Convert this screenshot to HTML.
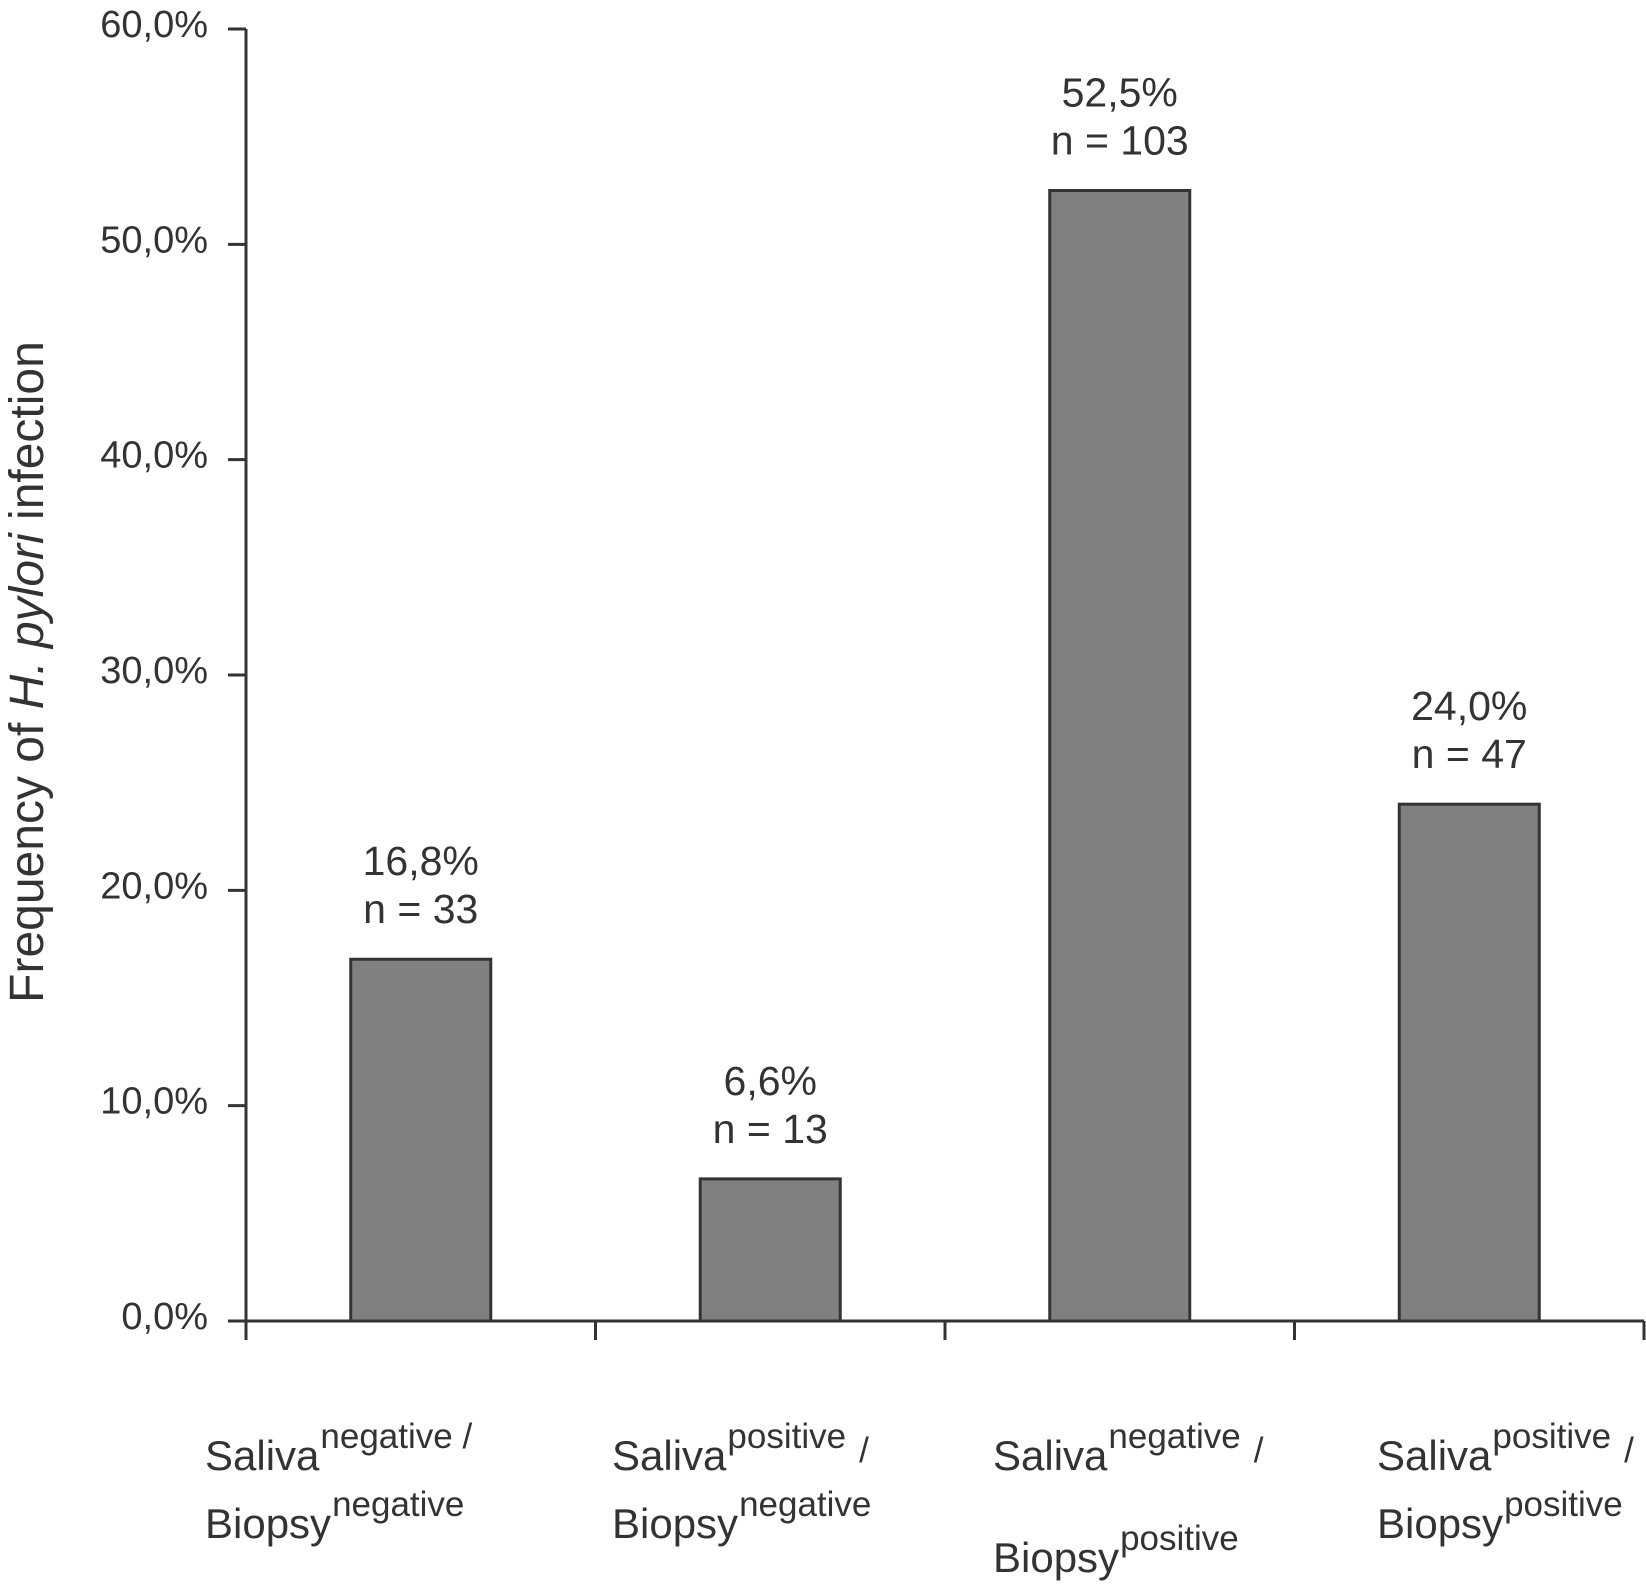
<!DOCTYPE html>
<html><head><meta charset="utf-8"><style>
html,body{margin:0;padding:0;background:#fff;}
svg{display:block;font-family:"Liberation Sans",Arial,sans-serif;}
</style></head><body>
<svg id="chart" width="1646" height="1591" viewBox="0 0 1646 1591">
<g id="axes"></g><g id="bars"></g><g id="labels"></g>
</svg>
<script>
const categories=[["negative","negative"],["positive","negative"],["negative","positive"],["positive","positive"]];
const values=[16.8,6.6,52.5,24.0];
const valueLabels=["16,8%","6,6%","52,5%","24,0%"];
const countLabels=["n = 33","n = 13","n = 103","n = 47"];
const yTicks=[0,10,20,30,40,50,60];
const yTickLabels=["0,0%","10,0%","20,0%","30,0%","40,0%","50,0%","60,0%"];

const NS="http://www.w3.org/2000/svg";
const x0=246,x1=1644,y0=1321,yTop=29,yMax=60;
const band=(x1-x0)/categories.length;
function yScale(v){return y0-(v/yMax)*(y0-yTop);}
function xCenter(i){return x0+band*(i+0.5);}
function mk(tag,attrs,parent){const e=document.createElementNS(NS,tag);for(const k in attrs)e.setAttribute(k,attrs[k]);parent.appendChild(e);return e;}
const axes=document.getElementById('axes'),bars=document.getElementById('bars'),labels=document.getElementById('labels');
const col="#333";
let l=mk('line',{x1:x0,y1:yTop,x2:x0,y2:y0+19,stroke:col,'stroke-width':3},axes);


l=mk('line',{x1:x0,y1:y0,x2:x1,y2:y0,stroke:col,'stroke-width':3},axes);


yTicks.forEach((v,i)=>{
  const y=yScale(v);
  const t=mk('line',{x1:x0-18,y1:y,x2:x0,y2:y,stroke:col,'stroke-width':3},axes);
  
  
  const tx=mk('text',{x:208,y:y+8,'text-anchor':'end','font-size':38,fill:col},axes);
  tx.textContent=yTickLabels[i];
  
  
});
for(let i=0;i<=categories.length;i++){
  const x=x0+band*i;
  const t=mk('line',{x1:x,y1:y0,x2:x,y2:y0+19,stroke:col,'stroke-width':3},axes);
  
  
}
const bw=140;
const labelX=[205,612,993,1377];
function richText(x,y,main,sup,tail,tailSup,name){
  const a=mk('text',{x:x,y:y,'font-size':42,fill:col},labels);
  a.textContent=main;
  
  
  const w=a.getComputedTextLength();
  const s=mk('text',{x:x+w+1,y:y-22,'font-size':35,fill:col},labels);
  s.textContent=sup+(tailSup?tail:'');
  
  
  if(tail&&!tailSup){
    const sw=s.getComputedTextLength();
    const t=mk('text',{x:x+w+sw+14,y:y-8,'font-size':35,fill:col},labels);
    t.textContent=tail;
    
    
  }
}
values.forEach((v,i)=>{
  const cx=xCenter(i),y=yScale(v);
  const r=mk('rect',{x:cx-bw/2,y:y,width:bw,height:y0-y,fill:'#808080',stroke:col,'stroke-width':3},bars);
  
  
  const a=mk('text',{x:cx,y:y-84,'text-anchor':'middle','font-size':41,fill:col},labels);
  a.textContent=valueLabels[i];
  
  
  const b=mk('text',{x:cx,y:y-36,'text-anchor':'middle','font-size':41,fill:col},labels);
  b.textContent=countLabels[i];
  
  
  const c=categories[i];
  richText(labelX[i],1470,'Saliva',c[0],' /',i===0,'category-label-saliva');
  richText(labelX[i],i===2?1572:1538,'Biopsy',c[1],'',false,'category-label-biopsy');
});
const yt=mk('text',{x:0,y:0,'font-size':48,fill:col,'text-anchor':'middle',transform:'translate(43,672) rotate(-90)'},labels);


yt.innerHTML='Frequency of <tspan font-style="italic">H. pylori</tspan> infection';
</script>
</body></html>
